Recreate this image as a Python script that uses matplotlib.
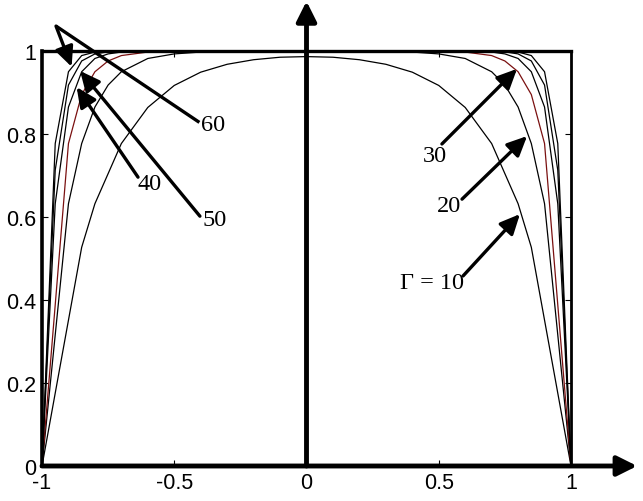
import matplotlib
matplotlib.use("Agg")
import matplotlib.pyplot as plt
import numpy as np

# ---- data (left half of each symmetric profile) ----
x_g10 = [-1.0, -0.85, -0.8, -0.7, -0.6, -0.5, -0.4, -0.3, -0.2, -0.1, 0.0]
u_g10 = [0.0, 0.527, 0.632, 0.777, 0.864, 0.917, 0.949, 0.968, 0.979, 0.985, 0.9865]

x_g20 = [-1.0, -0.9, -0.85, -0.8, -0.75, -0.7, -0.6, -0.5, -0.4, -0.2, 0.0]
u_g20 = [0.0, 0.632, 0.777, 0.865, 0.918, 0.950, 0.982, 0.993, 0.9975, 0.9997, 1.0]

x_g30 = [-1.0, -0.9, -0.85, -0.8, -0.75, -0.7, -0.6, -0.5, 0.0]
u_g30 = [0.0, 0.777, 0.895, 0.950, 0.976, 0.989, 0.9975, 0.9994, 1.0]

x_g40 = [-1.0, -0.95, -0.9, -0.85, -0.8, -0.75, -0.7, 0.0]
u_g40 = [0.0, 0.632, 0.865, 0.950, 0.982, 0.993, 0.9975, 1.0]

x_g50 = [-1.0, -0.95, -0.9, -0.85, -0.8, -0.75, 0.0]
u_g50 = [0.0, 0.713, 0.918, 0.976, 0.993, 0.998, 1.0]

x_g60 = [-1.0, -0.95, -0.9, -0.85, -0.8, -0.75, 0.0]
u_g60 = [0.0, 0.777, 0.950, 0.989, 0.9975, 0.9994, 1.0]

curves = [
    (x_g10, u_g10, "black"),
    (x_g20, u_g20, "black"),
    (x_g30, u_g30, "#7a1010"),
    (x_g40, u_g40, "black"),
    (x_g50, u_g50, "black"),
    (x_g60, u_g60, "black"),
]

x_ticks = [-1, -0.5, 0, 0.5, 1]
x_tick_labels = ["-1", "-0.5", "0", "0.5", "1"]
y_ticks = [0, 0.2, 0.4, 0.6, 0.8, 1]
y_tick_labels = ["0", "0.2", "0.4", "0.6", "0.8", "1"]

# ---- figure ----
fig = plt.figure(figsize=(6.43, 5.02), dpi=100)
ax = fig.add_axes([42 / 643, 35 / 502, 529 / 643, 415 / 502])
ax.set_xlim(-1, 1)
ax.set_ylim(0, 1)

for xs, us, col in curves:
    xs = np.asarray(xs)
    us = np.asarray(us)
    xf = np.concatenate([xs, -xs[::-1][1:]])
    uf = np.concatenate([us, us[::-1][1:]])
    ax.plot(xf, uf, color=col, lw=0.9, solid_joinstyle="miter")

# spines
ax.spines["left"].set_linewidth(2.6)
ax.spines["top"].set_linewidth(2.4)
ax.spines["right"].set_linewidth(2.0)
ax.spines["bottom"].set_visible(False)

ax.set_xticks(x_ticks)
ax.set_xticklabels(x_tick_labels)
ax.set_yticks(y_ticks)
ax.set_yticklabels(y_tick_labels)
ax.tick_params(direction="in", length=4, width=0.8, top=True, right=True,
               labelsize=15.5, pad=4)
for lab in ax.get_xticklabels() + ax.get_yticklabels():
    lab.set_fontfamily("Liberation Sans")

# main axes with arrows
ax.annotate("", xy=(1.25, 0), xytext=(-1.0, 0), xycoords="data",
            annotation_clip=False,
            arrowprops=dict(arrowstyle="-|>,head_length=0.6,head_width=0.3",
                            lw=3.5, color="black", shrinkA=0, shrinkB=0,
                            mutation_scale=20))
ax.annotate("", xy=(0, 1.12), xytext=(0, 0), xycoords="data",
            annotation_clip=False,
            arrowprops=dict(arrowstyle="-|>,head_length=0.6,head_width=0.3",
                            lw=3.5, color="black", shrinkA=0, shrinkB=0,
                            mutation_scale=20))

arrow_kw = dict(arrowstyle="-|>,head_length=0.6,head_width=0.28",
                lw=2.4, color="black", shrinkA=0, shrinkB=0, mutation_scale=20)
serif = dict(family="Liberation Serif", fontsize=17.5)

# 60 : line from label to a vertex, then arrow down
ax.plot([-0.405, -0.947], [0.828, 1.060], color="black", lw=2.4, clip_on=False,
        solid_capstyle="butt")
ax.annotate("", xy=(-0.888, 0.962), xytext=(-0.947, 1.060),
            annotation_clip=False, arrowprops=arrow_kw)
ax.text(-0.400, 0.822, "60", ha="left", va="center", **serif)

# 40
ax.annotate("", xy=(-0.869, 0.913), xytext=(-0.637, 0.696),
            annotation_clip=False, arrowprops=arrow_kw)
ax.text(-0.592, 0.680, "40", ha="center", va="center", **serif)

# 50
ax.annotate("", xy=(-0.856, 0.952), xytext=(-0.403, 0.602),
            annotation_clip=False, arrowprops=arrow_kw)
ax.text(-0.346, 0.595, "50", ha="center", va="center", **serif)

# 30
ax.annotate("", xy=(0.796, 0.957), xytext=(0.512, 0.776),
            annotation_clip=False, arrowprops=arrow_kw)
ax.text(0.486, 0.749, "30", ha="center", va="center", **serif)

# 20
ax.annotate("", xy=(0.834, 0.795), xytext=(0.588, 0.643),
            annotation_clip=False, arrowprops=arrow_kw)
ax.text(0.539, 0.627, "20", ha="center", va="center", **serif)

# Gamma = 10
ax.annotate("", xy=(0.807, 0.607), xytext=(0.592, 0.458),
            annotation_clip=False, arrowprops=arrow_kw)
ax.text(0.474, 0.443, "Γ = 10", ha="center", va="center", **serif)

fig.savefig("out.png", dpi=100)
